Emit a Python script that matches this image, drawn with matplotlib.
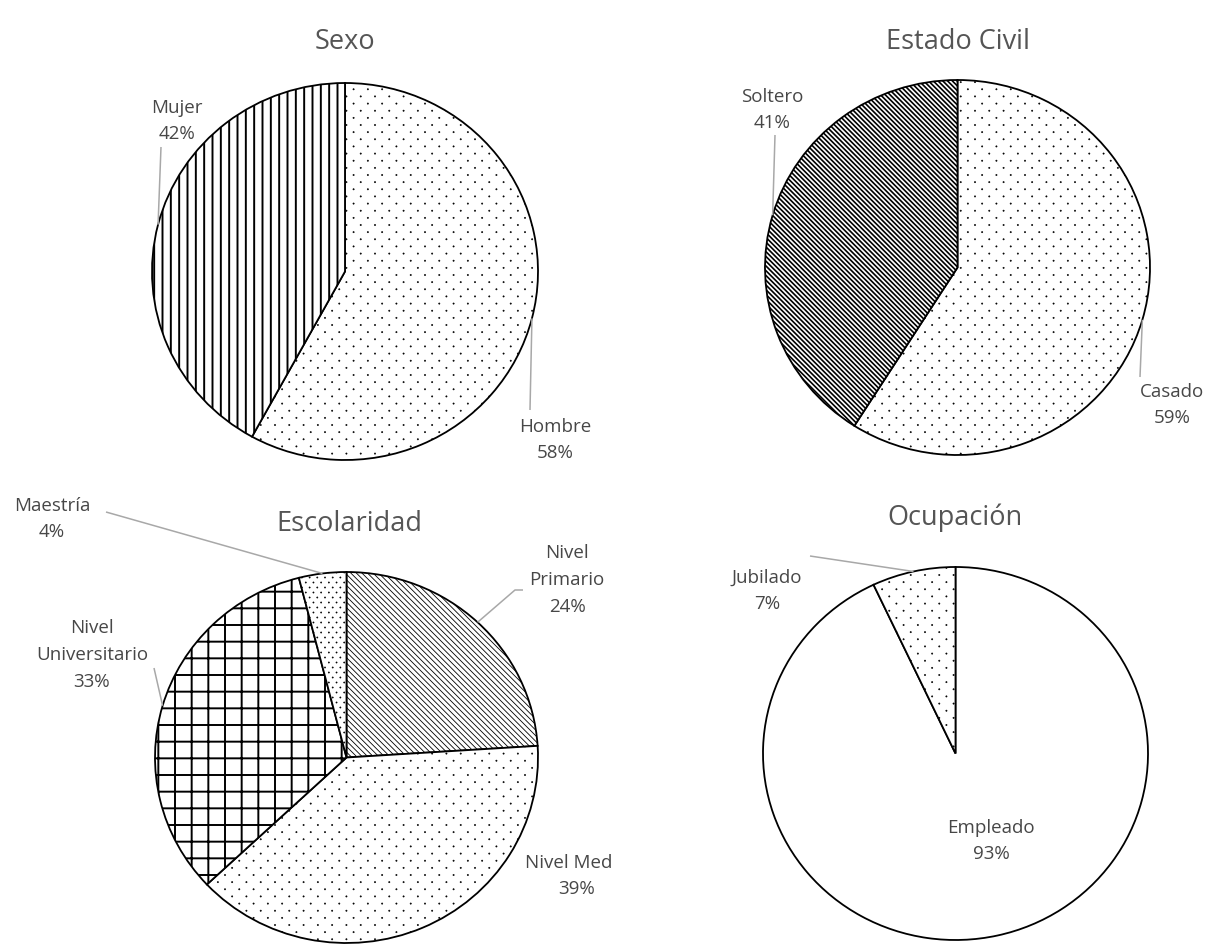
import matplotlib
matplotlib.use("Agg")
import matplotlib.pyplot as plt
import matplotlib.hatch as mhatch
import numpy as np
from matplotlib.path import Path
from matplotlib.transforms import Bbox, TransformedBbox

# ---------------- data ----------------
sexo_labels = ["Hombre", "Mujer"]
sexo_values = [58, 42]
civil_labels = ["Casado", "Soltero"]
civil_values = [59, 41]
esc_labels = ["Nivel\nPrimario", "Nivel Medio", "Nivel\nUniversitario", "Maestría"]
esc_values = [24, 39, 33, 4]
ocup_labels = ["Empleado", "Jubilado"]
ocup_values = [93, 7]
titles = ["Sexo", "Estado Civil", "Escolaridad", "Ocupación"]


# ---------------- custom staggered dot hatch ----------------
class StaggeredDots(mhatch.HatchPatternBase):
    def __init__(self, hatch, density):
        n = hatch.count(".")
        self.centers = []
        if n == 0:
            self.num_vertices = 0
            return
        if n == 1:
            ncols, nrows, r = 7, 14, 0.0065
        else:
            ncols, nrows, r = 13, 20, 0.0060
        for j in range(nrows):
            y = (j + 0.5) / nrows
            off = 0.25 if j % 2 == 0 else 0.75
            for i in range(ncols):
                self.centers.append(((i + off) / ncols, y))
        circ = Path.unit_circle()
        self.sv = circ.vertices
        self.sc = circ.codes
        self.r = r
        self.num_vertices = len(self.centers) * len(self.sv)

    def set_vertices_and_codes(self, vertices, codes):
        k = len(self.sv)
        for idx, (x, y) in enumerate(self.centers):
            vertices[idx * k:(idx + 1) * k] = self.sv * self.r + (x, y)
            codes[idx * k:(idx + 1) * k] = self.sc


try:
    mhatch._hatch_types[:] = [StaggeredDots if t is mhatch.SmallFilledCircles else t
                              for t in mhatch._hatch_types]
except Exception:
    pass

plt.rcParams["font.family"] = ["Open Sans", "DejaVu Sans"]

W, H = 1207, 946
fig = plt.figure(figsize=(W / 100, H / 100), dpi=100)
K = 3.0
TXT = "#474747"
LEAD = "#a8a8a8"
BS7 = "\\" * 7
BS6 = "\\" * 6


def make_ax(cx, cy, rx, ry):
    return fig.add_axes([(cx - K * rx) / W, 1 - (cy + K * ry) / H, 2 * K * rx / W, 2 * K * ry / H])


def draw_pie(geom, values, labels, hatches, hlws, title, title_px, label_px, leaders):
    cx, cy, rx, ry = geom
    ax = make_ax(cx, cy, rx, ry)
    wedges, _ = ax.pie(values, startangle=90, counterclock=False, radius=1,
                       wedgeprops=dict(edgecolor="black", linewidth=1.3, facecolor="white"))
    ax.set_xlim(-K, K)
    ax.set_ylim(-K, K)
    ax.set_aspect("auto")
    ax.axis("off")

    def to_data(p):
        return ((p[0] - cx) / rx, (cy - p[1]) / ry)

    for w, h, lw in zip(wedges, hatches, hlws):
        if h:
            w.set_hatch(h)
            try:
                w.set_hatch_linewidth(lw)
            except Exception:
                pass
    tx, ty = to_data(title_px)
    ax.text(tx, ty, title, ha="center", va="center", fontsize=19.5, color="#555555")
    texts = []
    for w, lab, v, lp, ld in zip(wedges, labels, values, label_px, leaders):
        x, y = to_data(lp)
        t = ax.text(x, y, f"{lab}\n{v}%", ha="center", va="center", fontsize=13.5,
                    color=TXT, linespacing=1.62)
        texts.append(t)
        if ld:
            mid = np.deg2rad((w.theta1 + w.theta2) / 2)
            xs = [np.cos(mid)] + [to_data(p)[0] for p in ld]
            ys = [np.sin(mid)] + [to_data(p)[1] for p in ld]
            ax.plot(xs, ys, color=LEAD, lw=1.1, solid_capstyle="butt")
    return ax, texts


draw_pie((345, 271.5, 193, 188.5), sexo_values, sexo_labels,
         [".", "||"], [0.4, 1.4], titles[0], (345, 42),
         [(555, 440), (177, 121)],
         [[(530, 410)], [(161, 147)]])

draw_pie((957.5, 267.5, 192.5, 187.5), civil_values, civil_labels,
         [".", BS7], [0.4, 1.2], titles[1], (958, 42),
         [(1172, 405), (772, 110)],
         [[(1140, 377)], [(775, 135)]])

ax3, t3 = draw_pie((346.5, 757.5, 191.5, 185.5), esc_values, esc_labels,
                   [BS6, ".", "+", ".."], [0.6, 0.4, 1.4, 0.4], titles[2], (349, 524),
                   [(567, 580), (577, 876), (92, 655), (52, 519)],
                   [[(515, 590), (523, 590)], None, [(154, 668)], [(106, 512)]])
# "Nivel Medio" label is cut at the right in the original
t3[1].set_clip_box(TransformedBbox(Bbox([[0, 0], [611 / W, 1]]), fig.transFigure))
t3[1].set_clip_on(True)

draw_pie((955.5, 753.5, 192.5, 186.5), ocup_values, ocup_labels,
         ["", "."], [0.4, 0.4], titles[3], (955, 518),
         [(991, 841), (767, 591)],
         [None, [(810, 556)]])

fig.savefig("out.png", dpi=100, facecolor="white")
